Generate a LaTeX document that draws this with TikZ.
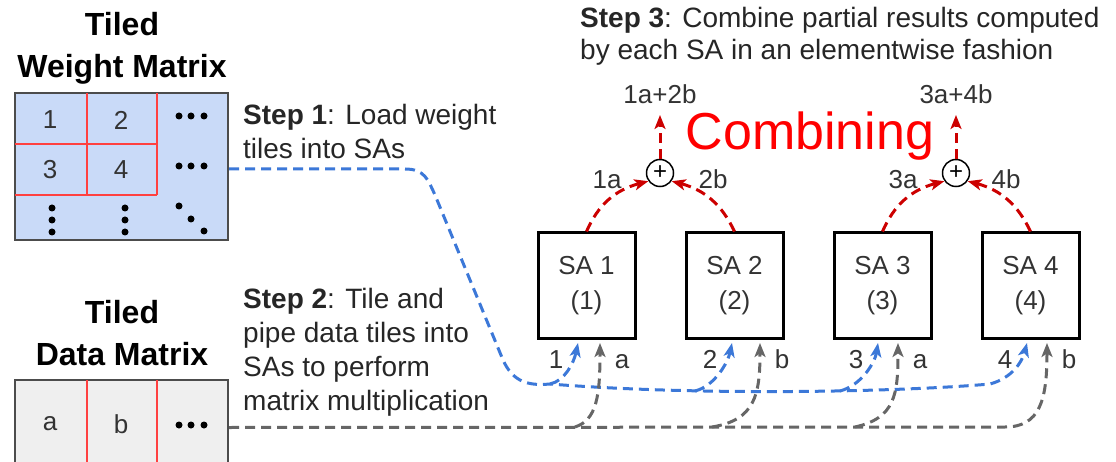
\documentclass[tikz,border=0pt]{standalone}
\usepackage{fontspec}
\setmainfont{Liberation Sans}
\usetikzlibrary{arrows.meta}
\usetikzlibrary{positioning}
\definecolor{wblue}{HTML}{C9DAF8}
\definecolor{dgray}{HTML}{EFEFEF}
\definecolor{tilered}{HTML}{FF4040}
\definecolor{loadblue}{HTML}{3C78D8}
\definecolor{pipegray}{HTML}{666666}
\definecolor{sumred}{HTML}{CC0000}
\definecolor{txt}{HTML}{333333}

\begin{document}
\begin{tikzpicture}[x=1pt, y=-1pt, >={Stealth[length=14pt,width=11pt,inset=3.5pt]},
  title/.style={font=\fontsize{32}{42}\selectfont\bfseries, align=center, inner sep=0pt, anchor=north},
  matbox/.style={draw=black!70, line width=2pt, minimum width=213pt, inner sep=0pt},
  tileline/.style={tilered, line width=1.5pt},
  cell/.style={font=\fontsize{26}{30}\selectfont, text=txt, inner sep=0pt},
  steptext/.style={font=\fontsize{28}{34}\selectfont, align=left, inner sep=0pt, anchor=north west, text=black!85},
  sabox/.style={draw, line width=3pt, minimum width=97pt, minimum height=105pt, align=center, font=\fontsize{26}{35}\selectfont, text=txt},
  plus/.style={circle, draw, line width=1.5pt, minimum size=27pt, inner sep=0pt, font=\fontsize{24}{24}\selectfont},
  lbl/.style={font=\fontsize{26}{30}\selectfont, text=txt, inner sep=0pt, anchor=base},
  flow/.style={line width=3pt, dash pattern=on 10pt off 6pt},
  load/.style={flow, loadblue},
  pipe/.style={flow, pipegray},
  sum/.style={flow, sumred}]
\useasboundingbox (0,0) rectangle (1116,462);

% weight matrix
\node[title] (wtitle) at (122,12) {Tiled\\Weight Matrix};
\node[matbox, fill=wblue, minimum height=147pt] (wmat) at (121.5,166.5) {};
\draw[tileline] (87,93) -- (87,195) (157,93) -- (157,195) (15,144) -- (157,144) (15,195) -- (157,195);
\foreach \t/\x/\y in {1/50/120, 2/121/120, 3/50/170, 4/121/170}
  \node[cell] (w\t) at (\x,\y) {\t};
\foreach \x/\y in {179/116, 191/116, 204/116, 179/166, 191/166, 204/166,
                   52/208, 52/220, 52/232, 125/208, 125/220, 125/232,
                   179/206, 191/219, 204/231}
  \fill (\x,\y) circle (3.5pt);

% data matrix
\node[title] (dtitle) at (122,300) {Tiled\\Data Matrix};
\node[matbox, fill=dgray, minimum height=95pt] (dmat) at (121.5,427.5) {};
\draw[tileline] (87,380) -- (87,475) (157,380) -- (157,475);
\node[cell] (da) at (50,424) {a};
\node[cell] (db) at (121,424) {b};
\foreach \x in {179,191,204}
  \fill (\x,425) circle (3.5pt);

% steps
\node[steptext] (step1) at (243,104) {\textbf{Step 1}: Load weight\\tiles into SAs};
\node[steptext] (step2) at (243,288) {\textbf{Step 2}: Tile and\\pipe data tiles into\\SAs to perform\\matrix multiplication};
\node[steptext, font=\fontsize{28}{32}\selectfont] (step3) at (580,7) {\textbf{Step 3}: Combine partial results computed\\by each SA in an elementwise fashion};

% systolic arrays
\node[sabox] (sa1) at (586.5,285.5) {SA 1\\(1)};
\node[sabox, right=48pt of sa1] (sa2) {SA 2\\(2)};
\node[sabox, right=48pt of sa2] (sa3) {SA 3\\(3)};
\node[sabox, right=48pt of sa3] (sa4) {SA 4\\(4)};

% combining
\node[font=\fontsize{52}{60}\selectfont, text=red, anchor=base] (comb) at (810,150) {Combining};
\node[plus] (p12) at (660,173) {+};
\node[plus] (p34) at (956,173) {+};
\coordinate (r12) at (660,115);
\coordinate (r34) at (956,115);
\draw[sum,->] (sa1.north) .. controls (598,205) and (615,190) .. (p12.215);
\draw[sum,->] (sa2.north) .. controls (722,205) and (705,190) .. (p12.325);
\draw[sum,->] (p12.north) -- (r12);
\draw[sum,->] (sa3.north) .. controls (894,205) and (911,190) .. (p34.215);
\draw[sum,->] (sa4.north) .. controls (1018,205) and (1001,190) .. (p34.325);
\draw[sum,->] (p34.north) -- (r34);
\node[lbl] (o12) at (660,104) {1a+2b};
\node[lbl] (o34) at (956,104) {3a+4b};
\node[lbl] (l1a) at (607,189) {1a};
\node[lbl] (l2b) at (713,189) {2b};
\node[lbl] (l3a) at (903,189) {3a};
\node[lbl] (l4b) at (1006,189) {4b};

% inputs of each SA
\foreach \i/\n/\d/\wx/\gx in {1/1/a/578/600, 2/2/b/732/760, 3/3/a/878/898, 4/4/b/1027/1047}{
  \coordinate (w\i) at (\wx,343);
  \coordinate (g\i) at (\gx,343);
  \node[lbl] (n\i) at (\wx-22,368) {\n};
  \node[lbl] (d\i) at (\gx+22,368) {\d};
}

% weight tiles
\coordinate (b1) at (550,384);
\coordinate (b2) at (695,391);
\coordinate (b3) at (840,391);
\coordinate (b4) at (990,384);
\draw[load,->] ([yshift=-2.5pt]wmat.east) -- (405,169) .. controls (425,169) and (428,180) .. (435,195)
  -- (503,360) .. controls (513,382) and (528,386) .. (b1)
  .. controls (700,396) and (900,392) .. (b4) .. controls (1012,378) and (1022,362) .. (w4);
\draw[load,->] (b1) .. controls (565,381) and (574,362) .. (w1);
\draw[load,->] (b2) .. controls (715,386) and (728,362) .. (w2);
\draw[load,->] (b3) .. controls (862,385) and (875,362) .. (w3);

% data tiles
\coordinate (c1) at (575,427);
\coordinate (c2) at (712,427);
\coordinate (c3) at (855,427);
\coordinate (c4) at (1005,427);
\draw[pipe,->] (dmat.east) -- (c4) .. controls (1040,427) and (1047,400) .. (g4);
\draw[pipe,->] (c1) .. controls (597,420) and (600,395) .. (g1);
\draw[pipe,->] (c2) .. controls (755,420) and (760,395) .. (g2);
\draw[pipe,->] (c3) .. controls (895,418) and (898,395) .. (g3);
\end{tikzpicture}
\end{document}
